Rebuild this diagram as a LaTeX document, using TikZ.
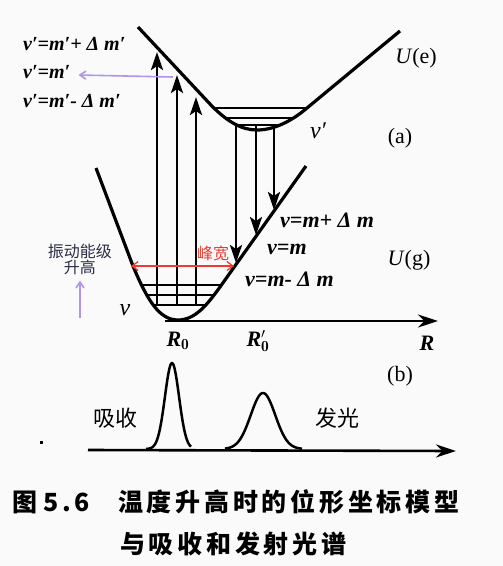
\documentclass[tikz,border=0pt]{standalone}
\usepackage{fontspec}
\newfontfamily\cjk{Noto Sans CJK SC}
\newfontfamily\tms{Liberation Serif}
\usetikzlibrary{positioning, arrows.meta, calc}
\definecolor{bgc}{RGB}{250,250,250}
\definecolor{lav}{RGB}{178,148,236}
\definecolor{peakred}{RGB}{238,58,48}
\definecolor{note}{RGB}{45,45,70}
\tikzset{
	curve/.style={line width=3.2pt, line join=round},
	level/.style={line width=2.2pt},
	absorb/.style={line width=2.8pt, -{Stealth[length=18pt, width=12pt, inset=4pt]}},
	axis/.style={line width=2.6pt, -{Stealth[length=20pt, width=13pt]}},
	peak/.style={line width=2.5pt, line join=round},
	lab/.style={font=\tms\bfseries\itshape\fontsize{22}{24}\selectfont, inner sep=0pt},
	elab/.style={font=\tms\bfseries\itshape\fontsize{20}{22}\selectfont, inner sep=0pt},
	plain/.style={font=\tms\fontsize{22}{24}\selectfont, inner sep=0pt},
	cnote/.style={font=\cjk\fontsize{16}{16}\selectfont, inner sep=0pt, align=center},
	cbig/.style={font=\cjk\fontsize{22}{24}\selectfont, inner sep=0pt},
	captxt/.style={font=\cjk\bfseries\fontsize{25}{28}\selectfont\addfontfeature{LetterSpace=15}, inner sep=0pt},
}

\begin{document}
\begin{tikzpicture}[x=1pt, y=-1pt]
	\fill[bgc] (0,0) rectangle (503,566);
	\useasboundingbox (0,0) rectangle (503,566);
	% ---- excited state U(e) ----
	\begin{scope}
		\clip (138,27) -- (210,104) .. controls (228,123) and (243,130) .. (257,130) .. controls (275,130) and (293,120) .. (307,108) -- (400,31) -- cycle;
		\foreach \y in {108,118,125}{
			\draw[level] (190,\y) -- (330,\y);
		}
	\end{scope}
	\draw[curve] (138,27) -- (210,104) .. controls (228,123) and (243,130) .. (257,130) .. controls (275,130) and (293,120) .. (307,108) -- (400,31);
	% ---- ground state U(g) ----
	\begin{scope}
		\clip (96,168) -- (133,266) .. controls (148,302) and (160,320) .. (178,320) .. controls (195,320) and (207,305) .. (220,287) -- (306,166) -- cycle;
		\foreach \y in {285,295,305}{
			\draw[level] (110,\y) -- (250,\y);
		}
	\end{scope}
	\draw[curve] (96,168) -- (133,266) .. controls (148,302) and (160,320) .. (178,320) .. controls (195,320) and (207,305) .. (220,287) -- (306,166);
	% ---- transitions ----
	\foreach \x/\ya/\yb in {157/305/52, 177/305/75, 196/305/97, 236/125/263, 256/125/235, 274/125/210}{
		\coordinate (s\x) at (\x,\ya);
		\coordinate (e\x) at (\x,\yb);
		\draw[absorb] (s\x) -- (e\x);
	}
	\coordinate (o) at (165,321);
	\coordinate (rend) at (438,321);
	\draw[axis] (o) -- (rend);
	% ---- labels (a) ----
	\node[elab, anchor=west] (em1) at (23,44) {ν′=m′+ Δ m′};
	\node[elab, anchor=west] (em2) at (23,72) {ν′=m′};
	\node[elab, anchor=west] (em3) at (23,101) {ν′=m′- Δ m′};
	\coordinate (pa) at (173,77);
	\draw[lav, line width=1.6pt, -{Straight Barb[length=6pt, width=8pt]}] (pa) -- ([xshift=8pt, yshift=-3pt]em2.east);
	\node[lab, font=\tms\itshape\fontsize{24}{24}\selectfont] (nue) at (318,131) {ν′};
	\node[plain] (ue) at (416,58) {\textit{U}(e)};
	\node[plain] (pa1) at (400,138) {(a)};
	\node[lab, anchor=west] (g1) at (280,220) {ν=m+ Δ m};
	\node[lab, anchor=west] (g2) at (267,249) {ν=m};
	\node[lab, anchor=west] (g3) at (245,279) {ν=m- Δ m};
	\node[plain] (ug) at (409,260) {\textit{U}(g)};
	\node[lab, font=\tms\itshape\fontsize{24}{24}\selectfont] (nug) at (125,310) {ν};
	\node[lab] (r0) at (178,341) {R$_{\mathbf{0}}$};
	\node[lab] (r0p) at (258,341) {R$_{\mathbf{0}}^{\prime}$};
	\node[lab] (rr) at (427,343) {R};
	% ---- peak width and level rise ----
	\coordinate (pw1) at (131,266);
	\coordinate (pw2) at (234,266);
	\draw[peakred, line width=1.3pt, {Straight Barb[length=6pt, width=9pt]}-{Straight Barb[length=6pt, width=9pt]}] (pw1) -- (pw2);
	\node[cnote, text=peakred] (fw) at (213,253) {峰宽};
	\node[cnote, text=note] (rise) at (80,259) {振动能级\\升高};
	\coordinate (lv) at (80,318);
	\draw[lav, line width=1.6pt, -{Straight Barb[length=6pt, width=8pt]}] (lv) -- ([yshift=-6pt]rise.south);
	% ---- spectra (b) ----
	\coordinate (bo) at (88,450);
	\coordinate (bend) at (456,451);
	\draw[axis] (bo) -- (bend);
	\fill (40,441) rectangle (43,444);
	\draw[peak] plot[domain=146:191, samples=60, smooth] (\x, {449-86*exp(-(\x-172)*(\x-172)/100)});
	\draw[peak] plot[domain=225:302, samples=80, smooth] (\x, {449-56*exp(-(\x-263)*(\x-263)/300)});
	\node[cbig] (abs) at (115,418) {吸收};
	\node[cbig] (emi) at (337,418) {发光};
	\node[plain] (pb) at (400,376) {(b)};
	% ---- caption ----
	\node[captxt, anchor=west] (fig) at (12,502) {图\hspace{6pt}5.6};
	\node[captxt, anchor=west] (t1) at (118,502) {温度升高时的位形坐标模型};
	\node[captxt, anchor=west] (t2) at (120,544) {与吸收和发射光谱};
\end{tikzpicture}
\end{document}
